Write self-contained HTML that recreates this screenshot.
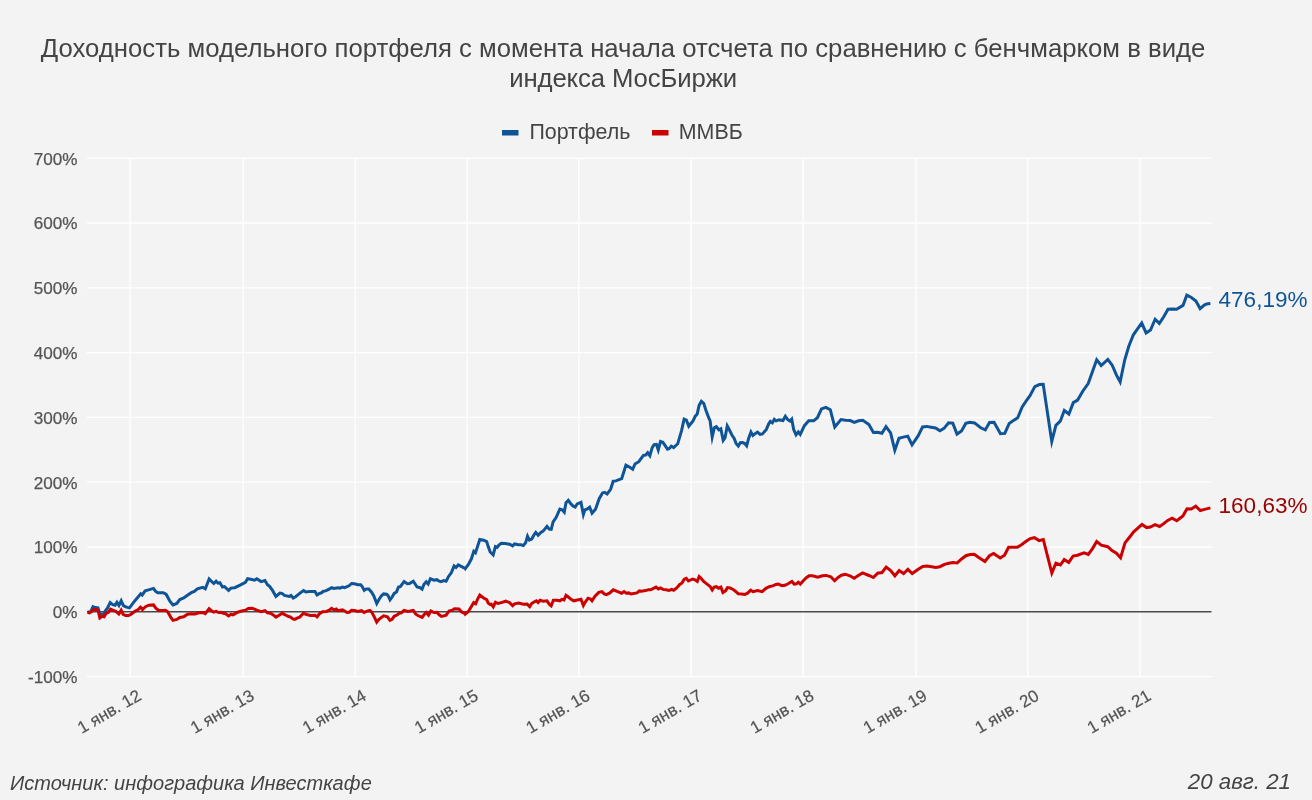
<!DOCTYPE html>
<html lang="ru"><head><meta charset="utf-8"><title>Доходность модельного портфеля</title>
<style>
html,body{margin:0;padding:0;background:#f3f3f3;}
body{width:1312px;height:800px;overflow:hidden;font-family:"Liberation Sans",sans-serif;}
svg{display:block}
text{font-family:"Liberation Sans",sans-serif;}
.t{font-size:25.72px;fill:#444444;text-anchor:middle}
.lg{font-size:21.4px;fill:#444444}
.yl{font-size:17.1px;fill:#555555;text-anchor:end;stroke:#555555;stroke-width:0.25px}
.xl{font-size:17.0px;fill:#555555;text-anchor:end;stroke:#555555;stroke-width:0.2px}
.src{font-size:20px;fill:#444444;font-style:italic}
.dl{font-size:22.5px}
</style></head><body>
<svg width="1312" height="800" viewBox="0 0 1312 800">
<rect x="0" y="0" width="1312" height="800" fill="#f3f3f3"/>

<g stroke="#ffffff" stroke-width="1.3" fill="none">
<path d="M87 676.6 H1211.5"/>
<path d="M87 547.0 H1211.5"/>
<path d="M87 482.2 H1211.5"/>
<path d="M87 417.4 H1211.5"/>
<path d="M87 352.6 H1211.5"/>
<path d="M87 287.8 H1211.5"/>
<path d="M87 223.0 H1211.5"/>
<path d="M87 158.2 H1211.5"/>
<path d="M130.1 158.2 V676.6"/>
<path d="M243.1 158.2 V676.6"/>
<path d="M355.2 158.2 V676.6"/>
<path d="M467.1 158.2 V676.6"/>
<path d="M578.8 158.2 V676.6"/>
<path d="M691.0 158.2 V676.6"/>
<path d="M802.9 158.2 V676.6"/>
<path d="M916.0 158.2 V676.6"/>
<path d="M1027.8 158.2 V676.6"/>
<path d="M1139.9 158.2 V676.6"/>
</g>
<path d="M87 611.8 H1211.5" stroke="#4a4a4a" stroke-width="1.5"/>
<clipPath id="pc"><rect x="87" y="158.2" width="1124.5" height="518.4"/></clipPath><g clip-path="url(#pc)">
<path d="M87.6 612.2 L90.7 611.7 L93.0 606.7 L95.2 607.6 L98.0 607.9 L99.8 614.0 L103.6 614.3 L105.2 611.0 L107.4 608.2 L110.2 602.6 L112.8 604.6 L115.1 605.2 L116.97 602.37 L118.95 605.52 L121.23 600.87 L123.4 605.6 L125.7 606.9 L129.5 607.9 L133.4 602.6 L137.2 598.0 L140.7 593.8 L142.2 595.0 L145.2 590.9 L148.6 589.9 L153.5 588.4 L155.5 591.2 L157.7 592.7 L163.1 592.7 L166.1 594.2 L169.9 601.1 L173.0 604.9 L176.8 603.4 L179.8 599.5 L183.7 598.0 L186.7 595.7 L191.3 592.7 L194.3 591.5 L197.4 588.9 L202.7 587.3 L205.3 588.9 L209.15 578.95 L211.4 581.2 L213.8 583.5 L216.1 581.2 L218.0 583.2 L219.9 582.8 L222.5 587.0 L224.5 586.6 L228.6 590.4 L230.9 588.1 L234.7 587.7 L240.1 585.1 L245.4 582.3 L247.7 578.7 L250.7 579.3 L254.5 580.2 L256.8 578.7 L261.1 581.6 L264.9 580.5 L267.5 584.8 L269.8 586.6 L272.8 590.9 L275.9 596.5 L279.9 593.0 L281.9 593.4 L284.5 595.4 L289.1 596.5 L291.0 595.4 L293.2 598.0 L295.9 596.5 L299.7 593.4 L303.5 590.5 L305.8 591.9 L309.6 591.6 L315.0 591.5 L317.0 595.0 L319.5 593.4 L321.1 593.0 L323.4 591.2 L325.6 590.9 L328.7 589.3 L331.7 587.7 L334.0 588.4 L337.8 587.7 L340.1 588.1 L342.4 587.0 L344.7 587.7 L349.0 585.8 L351.6 583.5 L354.6 583.8 L357.7 584.8 L360.7 584.8 L362.2 586.6 L364.2 590.4 L366.3 588.9 L368.8 588.9 L371.4 591.9 L373.7 595.7 L376.75 603.56 L379.0 599.5 L381.3 596.0 L383.6 593.9 L386.6 594.2 L388.1 595.7 L390.04 599.89 L392.0 597.3 L394.2 593.4 L396.5 591.9 L398.5 587.0 L400.3 586.6 L404.1 581.6 L407.2 583.8 L409.5 583.5 L413.3 581.2 L417.1 587.0 L420.2 587.7 L422.1 589.19 L424.0 584.3 L426.2 581.7 L428.15 583.97 L430.4 578.7 L433.9 580.2 L436.9 579.7 L439.2 581.2 L441.0 581.7 L443.8 580.5 L446.1 581.2 L448.4 576.7 L451.4 572.6 L454.1 566.0 L456.0 567.5 L458.3 564.9 L462.1 566.8 L465.1 568.3 L465.32 568.65 L468.4 564.5 L471.4 558.8 L473.79 551.26 L475.51 552.75 L477.5 546.6 L479.8 539.5 L483.6 540.2 L486.7 541.6 L488.2 546.6 L490.2 552.0 L493.19 554.87 L495.4 546.6 L497.1 547.4 L498.9 545.1 L501.2 543.3 L505.0 543.6 L509.6 544.3 L512.6 545.9 L514.6 543.9 L518.0 544.8 L521.0 544.8 L523.3 545.6 L525.6 542.8 L527.51 536.13 L529.4 540.1 L531.7 539.0 L534.0 534.9 L535.8 532.4 L538.1 535.2 L540.9 532.4 L543.1 531.1 L547.0 526.3 L549.2 529.1 L551.2 529.4 L553.1 521.9 L556.1 517.6 L559.9 509.0 L562.2 509.7 L564.28 512.14 L566.0 502.8 L568.3 500.4 L570.6 503.5 L572.9 505.9 L575.2 507.0 L577.2 503.9 L581.0 502.4 L583.37 514.53 L584.8 510.0 L587.4 509.0 L589.67 507.11 L592.07 513.13 L595.5 509.3 L599.2 498.7 L602.5 492.9 L604.5 492.3 L607.1 493.9 L610.6 489.3 L613.2 481.2 L615.9 480.9 L621.7 478.6 L625.9 465.2 L629.4 467.0 L632.7 469.3 L635.0 464.0 L638.8 461.7 L643.4 455.3 L645.7 455.0 L647.7 452.73 L649.87 455.63 L652.2 447.6 L654.1 444.6 L656.4 444.3 L658.26 449.94 L660.5 441.5 L662.9 442.3 L665.5 446.1 L667.5 449.2 L669.3 448.4 L671.3 446.1 L673.6 447.6 L677.7 443.8 L681.5 430.9 L684.1 419.1 L686.4 420.2 L688.77 426.21 L693.0 420.9 L695.3 416.1 L697.2 414.1 L699.1 405.4 L701.4 401.4 L703.7 403.4 L705.9 410.3 L708.2 416.4 L710.1 420.9 L712.19 437.05 L714.3 427.8 L716.3 426.7 L718.9 429.8 L720.85 428.7 L723.21 440.36 L725.0 438.0 L727.23 425.93 L729.1 429.3 L731.9 435.0 L734.2 438.5 L736.1 443.5 L738.3 446.04 L740.3 442.7 L742.6 442.6 L744.8 443.5 L746.66 445.8 L748.7 438.2 L750.97 431.98 L752.9 435.4 L755.5 433.4 L757.5 432.1 L760.1 434.4 L762.4 433.9 L766.2 429.8 L768.5 424.3 L770.3 421.4 L772.3 422.9 L774.3 419.4 L776.1 420.9 L779.2 419.9 L783.0 420.5 L785.32 416.35 L787.6 419.4 L789.9 421.1 L791.72 419.22 L793.7 429.5 L796.05 434.82 L798.3 431.94 L800.27 434.41 L804.4 425.7 L808.7 420.8 L813.6 420.8 L817.4 417.7 L821.5 408.9 L825.8 407.4 L830.3 409.7 L834.76 426.96 L841.0 419.6 L845.6 420.3 L850.2 420.6 L854.3 422.3 L858.6 420.8 L862.8 420.3 L868.9 424.6 L873.4 432.5 L877.6 432.2 L881.9 433.3 L886.01 426.6 L890.6 432.9 L894.81 450.28 L899.0 438.2 L903.3 437.1 L907.7 436.1 L912.03 444.75 L918.1 435.9 L922.6 426.9 L926.8 426.4 L931.0 427.2 L935.6 428.0 L939.9 430.7 L944.0 428.4 L948.6 422.9 L952.8 423.1 L957.0 434.1 L961.5 431.0 L965.8 423.4 L969.9 422.3 L974.5 422.9 L980.7 427.8 L985.3 429.9 L989.5 422.4 L994.0 422.3 L1000.5 433.7 L1004.8 433.4 L1009.2 423.5 L1013.5 420.4 L1017.7 417.8 L1022.2 407.0 L1026.4 400.6 L1030.0 395.7 L1034.8 386.6 L1039.4 384.6 L1043.2 384.3 L1051.77 441.37 L1055.9 425.3 L1060.3 421.2 L1064.3 410.51 L1068.9 414.0 L1073.3 402.6 L1077.6 400.1 L1082.9 391.0 L1088.2 383.5 L1092.5 371.6 L1096.7 359.72 L1101.2 365.5 L1107.8 359.4 L1112.2 365.2 L1116.5 375.1 L1120.17 381.85 L1124.7 360.0 L1128.8 346.3 L1133.4 334.8 L1137.7 328.7 L1141.75 323.1 L1146.1 332.9 L1150.5 330.0 L1155.13 319.26 L1159.3 323.4 L1163.6 317.0 L1168.0 309.2 L1172.3 308.9 L1176.6 309.2 L1183.0 305.4 L1186.8 295.2 L1191.4 297.5 L1195.9 301.0 L1200.1 308.6 L1204.3 305.1 L1206.6 303.9 L1210.4 303.6" fill="none" stroke="#0f5496" stroke-width="3.0" stroke-linejoin="miter" stroke-miterlimit="10" stroke-linecap="butt"/>
<path d="M87.6 612.2 L89.5 612.8 L91.4 611.7 L93.4 609.8 L96.0 609.5 L98.0 610.2 L99.86 617.92 L102.1 616.3 L104.1 616.8 L106.2 613.3 L108.2 612.5 L110.5 609.1 L112.8 610.2 L115.8 611.3 L118.9 614.0 L121.17 610.19 L123.1 614.3 L125.7 615.5 L128.5 615.5 L131.1 614.3 L134.9 611.3 L137.9 609.8 L140.5 607.2 L142.5 609.5 L145.5 606.7 L148.9 605.2 L153.5 604.9 L155.8 608.2 L158.5 610.2 L162.3 610.5 L165.4 610.2 L167.7 611.7 L170.7 617.1 L173.0 620.4 L176.8 619.4 L179.8 617.5 L183.7 616.8 L187.5 614.3 L191.3 613.7 L195.1 614.0 L198.9 612.8 L202.7 612.5 L205.3 613.7 L209.1 608.7 L211.4 610.7 L213.8 612.2 L216.1 611.3 L218.7 612.5 L221.0 612.2 L223.3 613.3 L225.6 613.7 L228.6 615.9 L230.9 614.3 L233.2 614.8 L237.0 612.5 L240.8 611.3 L245.4 610.2 L248.4 608.4 L252.3 608.2 L256.8 610.2 L261.1 611.7 L264.9 610.7 L267.5 612.8 L270.5 613.3 L273.6 615.2 L275.9 617.1 L279.1 615.2 L282.2 613.3 L285.2 614.8 L288.0 616.3 L290.6 617.1 L292.9 618.9 L294.7 619.4 L297.1 618.1 L299.7 617.1 L303.5 613.3 L306.6 614.5 L310.4 615.5 L315.0 615.2 L317.0 616.8 L319.5 613.7 L322.6 611.7 L326.4 611.4 L328.7 610.5 L331.7 608.4 L334.0 609.9 L336.3 609.1 L337.8 610.7 L342.4 609.9 L344.7 611.0 L347.0 612.5 L349.3 612.2 L351.6 610.2 L354.6 610.5 L357.7 611.4 L361.5 610.7 L364.2 612.5 L366.3 611.3 L369.8 610.5 L371.8 612.2 L374.4 617.1 L376.74 622.11 L379.0 619.4 L383.6 615.9 L387.4 616.8 L390.0 620.4 L392.0 619.4 L394.2 616.3 L397.3 614.8 L399.6 612.8 L401.1 613.0 L404.1 610.5 L408.0 611.4 L413.3 610.5 L415.6 614.0 L417.9 615.5 L422.1 617.4 L424.0 614.8 L426.2 612.5 L428.49 615.11 L430.8 611.0 L433.9 612.5 L436.9 612.2 L439.2 614.8 L441.5 616.3 L443.8 615.9 L446.1 615.2 L449.1 611.0 L452.2 610.2 L454.5 608.7 L459.0 609.0 L461.3 611.7 L465.1 613.7 L465.31 614.17 L468.4 611.5 L471.4 606.6 L473.7 602.6 L475.6 603.8 L477.5 599.3 L479.8 595.1 L483.6 598.0 L486.7 599.6 L488.2 603.1 L490.2 604.6 L491.3 604.1 L493.26 606.78 L495.4 602.3 L498.1 603.5 L501.2 602.6 L505.8 601.2 L509.6 602.6 L512.6 605.7 L514.6 603.8 L518.7 603.1 L523.3 604.3 L527.1 604.1 L529.7 606.6 L531.7 603.5 L534.0 602.0 L536.3 600.8 L538.1 602.6 L540.1 600.3 L543.1 601.2 L547.0 600.8 L549.2 604.1 L551.2 605.7 L553.4 600.3 L556.9 600.3 L559.9 600.8 L561.9 599.3 L564.0 600.0 L566.0 595.4 L568.3 597.0 L571.4 599.6 L573.7 600.8 L577.5 600.0 L581.0 599.3 L583.35 605.51 L585.1 602.3 L588.1 598.2 L590.4 599.0 L592.0 600.8 L595.0 596.2 L598.8 592.4 L601.9 591.6 L604.2 593.9 L606.5 594.7 L609.5 593.2 L613.3 589.8 L617.1 591.3 L621.7 593.2 L624.0 591.6 L626.3 593.2 L628.6 592.9 L630.9 593.9 L637.0 592.9 L639.3 590.9 L641.5 591.3 L645.4 590.6 L648.4 589.8 L650.7 589.8 L656.0 587.1 L658.3 588.9 L660.4 587.9 L663.0 589.4 L666.0 589.7 L669.1 590.5 L671.4 589.4 L673.6 590.2 L676.7 587.9 L679.7 584.5 L682.0 582.9 L684.3 579.2 L686.3 578.3 L688.4 581.0 L692.7 579.0 L695.0 579.8 L697.3 581.49 L699.14 576.55 L701.1 578.3 L703.4 581.3 L706.4 583.6 L710.3 586.7 L712.21 589.9 L714.1 587.1 L716.4 586.7 L718.6 588.2 L720.9 587.1 L722.9 592.5 L725.5 590.9 L727.5 587.6 L730.1 587.9 L733.1 589.4 L735.4 591.2 L738.2 593.7 L741.5 594.0 L744.9 594.4 L747.6 593.2 L750.7 590.2 L753.0 591.7 L757.6 590.5 L762.1 591.7 L765.9 588.3 L769.8 586.4 L772.8 585.9 L775.9 584.4 L778.1 584.1 L782.0 585.6 L785.0 585.3 L788.1 583.8 L791.9 581.5 L794.2 584.1 L796.5 583.8 L798.3 582.2 L800.3 584.1 L803.3 580.7 L806.4 577.7 L809.0 575.7 L812.5 575.7 L817.8 577.2 L822.4 575.7 L826.2 575.4 L830.8 576.8 L834.6 580.7 L838.4 577.2 L841.5 575.2 L845.3 574.2 L849.9 575.8 L854.2 578.3 L858.3 575.5 L862.6 572.9 L869.0 575.5 L873.3 577.5 L877.7 573.2 L882.0 572.5 L886.2 567.1 L890.6 570.5 L894.9 575.8 L899.2 570.5 L903.6 573.5 L907.9 569.4 L912.2 573.5 L918.6 569.1 L922.8 566.4 L927.0 566.1 L931.5 566.7 L935.8 567.4 L939.9 566.7 L944.5 564.4 L948.8 563.3 L952.9 562.5 L957.2 562.9 L961.6 559.0 L965.9 555.7 L970.1 554.5 L974.2 554.2 L978.8 557.5 L984.9 561.5 L989.5 555.7 L993.6 553.4 L1000.2 558.0 L1004.5 555.2 L1008.6 547.3 L1012.8 547.3 L1017.3 547.3 L1021.5 544.7 L1025.8 541.6 L1030.2 538.6 L1034.5 537.7 L1039.1 540.6 L1043.3 539.5 L1051.81 573.03 L1055.9 563.1 L1060.4 565.0 L1064.2 559.6 L1068.8 562.4 L1073.1 556.0 L1077.5 555.2 L1084.1 552.9 L1088.3 554.4 L1092.5 548.6 L1096.7 541.5 L1101.3 545.1 L1107.7 546.7 L1112.0 550.5 L1116.4 553.2 L1120.58 557.77 L1125.0 542.9 L1129.1 537.7 L1133.7 531.9 L1142.0 524.5 L1146.6 527.6 L1150.4 527.0 L1155.0 524.7 L1159.6 526.5 L1163.4 523.9 L1167.7 520.4 L1172.1 518.1 L1176.8 520.7 L1182.9 515.9 L1187.0 508.7 L1191.3 509.0 L1195.7 506.2 L1200.3 510.5 L1204.6 509.4 L1210.4 507.9" fill="none" stroke="#cc0000" stroke-width="3.0" stroke-linejoin="miter" stroke-miterlimit="10" stroke-linecap="butt"/>
</g>
<text class="t" x="623.1" y="56.6">Доходность модельного портфеля с момента начала отсчета по сравнению с бенчмарком в виде</text>
<text class="t" x="623.1" y="87.4" style="letter-spacing:-0.12px">индекса МосБиржи</text>
<rect x="502" y="130" width="16.5" height="5.5" fill="#0f5496"/>
<text class="lg" x="529.4" y="138.8">Портфель</text>
<rect x="652" y="130" width="16.5" height="5.5" fill="#cc0000"/>
<text class="lg" x="678.8" y="138.8">ММВБ</text>
<text class="yl" x="77.5" y="164.6">700%</text>
<text class="yl" x="77.5" y="229.4">600%</text>
<text class="yl" x="77.5" y="294.2">500%</text>
<text class="yl" x="77.5" y="359.0">400%</text>
<text class="yl" x="77.5" y="423.8">300%</text>
<text class="yl" x="77.5" y="488.6">200%</text>
<text class="yl" x="77.5" y="553.4">100%</text>
<text class="yl" x="77.5" y="618.2">0%</text>
<text class="yl" x="77.5" y="683.0">-100%</text>
<text class="xl" transform="translate(142.4 698.9) rotate(-30)">1 янв. 12</text>
<text class="xl" transform="translate(255.4 698.9) rotate(-30)">1 янв. 13</text>
<text class="xl" transform="translate(367.5 698.9) rotate(-30)">1 янв. 14</text>
<text class="xl" transform="translate(479.4 698.9) rotate(-30)">1 янв. 15</text>
<text class="xl" transform="translate(591.1 698.9) rotate(-30)">1 янв. 16</text>
<text class="xl" transform="translate(703.3 698.9) rotate(-30)">1 янв. 17</text>
<text class="xl" transform="translate(815.2 698.9) rotate(-30)">1 янв. 18</text>
<text class="xl" transform="translate(928.3 698.9) rotate(-30)">1 янв. 19</text>
<text class="xl" transform="translate(1040.1 698.9) rotate(-30)">1 янв. 20</text>
<text class="xl" transform="translate(1152.2 698.9) rotate(-30)">1 янв. 21</text>
<text class="dl" x="1218.6" y="306.5" fill="#0f5496">476,19%</text>
<text class="dl" x="1218.6" y="513.3" fill="#990000">160,63%</text>
<text class="src" x="10" y="790">Источник: инфографика Инвесткафе</text>
<text class="src" x="1291" y="788.6" style="font-size:22.3px;text-anchor:end">20 авг. 21</text>
</svg></body></html>
